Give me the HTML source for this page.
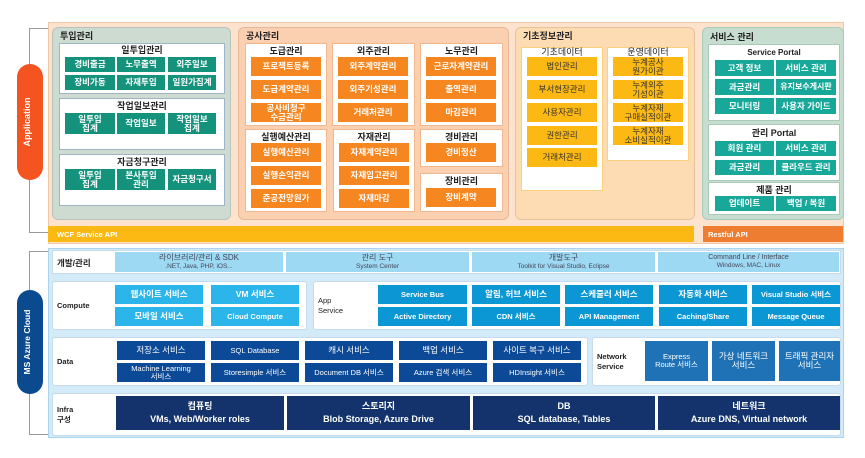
<!DOCTYPE html>
<html><head><meta charset="utf-8"><style>
*{margin:0;padding:0;box-sizing:border-box}
body{width:865px;height:458px;background:#fff;position:relative;overflow:hidden;font-family:"Liberation Sans","Noto Sans CJK KR",sans-serif}
div{position:absolute}
.c{display:flex;flex-direction:column;align-items:center;justify-content:center;text-align:center;color:#fff;font-size:8.5px;font-weight:bold;line-height:1.05}
.c span{display:block}
.t{font-size:9px;font-weight:bold;color:#222;text-align:center;line-height:1}
.w{background:#fff}
.g{background:#15927c}
.o{background:#f6861f}
.y{background:#fdb913}
.tl{background:#17a89a}
.lb{background:#9ed9f4;color:#445;font-weight:normal;font-size:8px;line-height:1.2}
.cb{background:#2bb5ea}
.ab{background:#0b96d4}
.db{background:#0c4a98;font-weight:normal}
.nb{background:#1f72b6;font-weight:normal}
.ib{background:#14336c;font-size:9px}
.rl{font-size:8px;font-weight:bold;color:#222}
</style></head><body>
<!-- Application -->
<div style="left:29px;top:28px;width:20px;height:205px;border:1.5px solid #999;border-right:none"></div>
<div style="left:48px;top:22px;width:796px;height:222px;background:#fde3cd;border:1px solid #f2c7a5"></div>
<div style="left:17px;top:64px;width:26px;height:116px;background:#f4541f;border-radius:13px"></div>
<div style="left:-13px;top:114px;width:86px;height:16px;color:#fff;font-size:9px;font-weight:bold;text-align:center;transform:rotate(-90deg)">Application</div>

<!-- 투입관리 -->
<div style="left:52px;top:27px;width:179px;height:193px;background:#cddbd1;border:1px solid #b8c3bc;border-radius:6px"></div>
<div class="t" style="left:60px;top:32px">투입관리</div>
<div class="w" style="left:59px;top:43px;width:166px;height:51px;border:1px solid #9fb2c8"></div>
<div class="t" style="left:59px;top:46px;width:166px">일투입관리</div>
<div class="c g" style="left:65px;top:57px;width:50px;height:15px">경비출금</div>
<div class="c g" style="left:117px;top:57px;width:48px;height:15px">노무출역</div>
<div class="c g" style="left:168px;top:57px;width:48px;height:15px">외주일보</div>
<div class="c g" style="left:65px;top:75px;width:50px;height:15px">장비가동</div>
<div class="c g" style="left:117px;top:75px;width:48px;height:15px">자재투입</div>
<div class="c g" style="left:168px;top:75px;width:48px;height:15px">일원가집계</div>
<div class="w" style="left:59px;top:98px;width:166px;height:52px;border:1px solid #9fb2c8"></div>
<div class="t" style="left:59px;top:102px;width:166px">작업일보관리</div>
<div class="c g" style="left:65px;top:113px;width:50px;height:21px">일투입<br>집계</div>
<div class="c g" style="left:117px;top:113px;width:48px;height:21px">작업일보</div>
<div class="c g" style="left:168px;top:113px;width:48px;height:21px">작업일보<br>집계</div>
<div class="w" style="left:59px;top:154px;width:166px;height:52px;border:1px solid #9fb2c8"></div>
<div class="t" style="left:59px;top:158px;width:166px">자금청구관리</div>
<div class="c g" style="left:65px;top:169px;width:50px;height:21px">일투입<br>집계</div>
<div class="c g" style="left:117px;top:169px;width:48px;height:21px">본사투입<br>관리</div>
<div class="c g" style="left:168px;top:169px;width:48px;height:21px">자금청구서</div>

<!-- 공사관리 -->
<div style="left:238px;top:27px;width:271px;height:193px;background:#fbd0b1;border:1px solid #e6b89a;border-radius:6px"></div>
<div class="t" style="left:246px;top:32px">공사관리</div>
<div class="w" style="left:245px;top:43px;width:82px;height:83px;border:1px solid #f1b88f"></div>
<div class="t" style="left:245px;top:47px;width:82px">도급관리</div>
<div class="c o" style="left:251px;top:57px;width:70px;height:19px">프로젝트등록</div>
<div class="c o" style="left:251px;top:80px;width:70px;height:19px">도급계약관리</div>
<div class="c o" style="left:251px;top:103px;width:70px;height:19px">공사비청구<br>수금관리</div>
<div class="w" style="left:332px;top:43px;width:83px;height:83px;border:1px solid #f1b88f"></div>
<div class="t" style="left:332px;top:47px;width:83px">외주관리</div>
<div class="c o" style="left:338px;top:57px;width:70px;height:19px">외주계약관리</div>
<div class="c o" style="left:338px;top:80px;width:70px;height:19px">외주기성관리</div>
<div class="c o" style="left:338px;top:103px;width:70px;height:19px">거래처관리</div>
<div class="w" style="left:420px;top:43px;width:83px;height:83px;border:1px solid #f1b88f"></div>
<div class="t" style="left:420px;top:47px;width:83px">노무관리</div>
<div class="c o" style="left:426px;top:57px;width:70px;height:19px">근로자계약관리</div>
<div class="c o" style="left:426px;top:80px;width:70px;height:19px">출역관리</div>
<div class="c o" style="left:426px;top:103px;width:70px;height:19px">마감관리</div>
<div class="w" style="left:245px;top:129px;width:82px;height:83px;border:1px solid #f1b88f"></div>
<div class="t" style="left:245px;top:133px;width:82px">실행예산관리</div>
<div class="c o" style="left:251px;top:143px;width:70px;height:19px">실행예산관리</div>
<div class="c o" style="left:251px;top:166px;width:70px;height:19px">실행손익관리</div>
<div class="c o" style="left:251px;top:189px;width:70px;height:19px">준공전망원가</div>
<div class="w" style="left:333px;top:129px;width:82px;height:83px;border:1px solid #f1b88f"></div>
<div class="t" style="left:333px;top:133px;width:82px">자재관리</div>
<div class="c o" style="left:339px;top:143px;width:70px;height:19px">자재계약관리</div>
<div class="c o" style="left:339px;top:166px;width:70px;height:19px">자재입고관리</div>
<div class="c o" style="left:339px;top:189px;width:70px;height:19px">자재마감</div>
<div class="w" style="left:420px;top:129px;width:83px;height:38px;border:1px solid #f1b88f"></div>
<div class="t" style="left:420px;top:133px;width:83px">경비관리</div>
<div class="c o" style="left:426px;top:143px;width:70px;height:19px">경비정산</div>
<div class="w" style="left:420px;top:173px;width:83px;height:39px;border:1px solid #f1b88f"></div>
<div class="t" style="left:420px;top:177px;width:83px">장비관리</div>
<div class="c o" style="left:426px;top:188px;width:70px;height:19px">장비계약</div>

<!-- 기초정보관리 -->
<div style="left:515px;top:27px;width:180px;height:193px;background:#fddcb4;border:1px solid #e8c39a;border-radius:6px"></div>
<div class="t" style="left:523px;top:32px">기초정보관리</div>
<div class="w" style="left:521px;top:47px;width:82px;height:144px;border:1px solid #fbd27a"></div>
<div class="t" style="left:521px;top:48px;width:82px;font-weight:normal">기초데이터</div>
<div class="c y" style="left:527px;top:57px;width:70px;height:19px;color:#333;font-weight:normal">법인관리</div>
<div class="c y" style="left:527px;top:80px;width:70px;height:19px;color:#333;font-weight:normal">부서현장관리</div>
<div class="c y" style="left:527px;top:103px;width:70px;height:19px;color:#333;font-weight:normal">사용자관리</div>
<div class="c y" style="left:527px;top:126px;width:70px;height:19px;color:#333;font-weight:normal">권한관리</div>
<div class="c y" style="left:527px;top:148px;width:70px;height:19px;color:#333;font-weight:normal">거래처관리</div>
<div class="w" style="left:607px;top:47px;width:82px;height:114px;border:1px solid #fbd27a"></div>
<div class="t" style="left:607px;top:48px;width:82px;font-weight:normal">운영데이터</div>
<div class="c y" style="left:613px;top:57px;width:70px;height:19px;color:#333;font-weight:normal">누계공사<br>원가이관</div>
<div class="c y" style="left:613px;top:80px;width:70px;height:19px;color:#333;font-weight:normal">누계외주<br>기성이관</div>
<div class="c y" style="left:613px;top:103px;width:70px;height:19px;color:#333;font-weight:normal">누계자재<br>구매실적이관</div>
<div class="c y" style="left:613px;top:126px;width:70px;height:19px;color:#333;font-weight:normal">누계자재<br>소비실적이관</div>

<!-- 서비스 관리 -->
<div style="left:702px;top:27px;width:142px;height:193px;background:#c7ddd0;border:1px solid #a7cbb6;border-radius:6px"></div>
<div class="t" style="left:710px;top:33px">서비스 관리</div>
<div class="w" style="left:708px;top:44px;width:132px;height:77px;border:1px solid #a7cbb6"></div>
<div class="t" style="left:708px;top:49px;width:132px;font-size:8px">Service Portal</div>
<div class="c tl" style="left:715px;top:60px;width:59px;height:16px">고객 정보</div>
<div class="c tl" style="left:776px;top:60px;width:60px;height:16px">서비스 관리</div>
<div class="c tl" style="left:715px;top:79px;width:59px;height:16px">과금관리</div>
<div class="c tl" style="left:776px;top:79px;width:60px;height:16px;font-size:8px">유지보수게시판</div>
<div class="c tl" style="left:715px;top:98px;width:59px;height:16px">모니터링</div>
<div class="c tl" style="left:776px;top:98px;width:60px;height:16px">사용자 가이드</div>
<div class="w" style="left:708px;top:124px;width:132px;height:57px;border:1px solid #a7cbb6"></div>
<div class="t" style="left:708px;top:129px;width:132px">관리 Portal</div>
<div class="c tl" style="left:715px;top:141px;width:59px;height:15px">회원 관리</div>
<div class="c tl" style="left:776px;top:141px;width:60px;height:15px">서비스 관리</div>
<div class="c tl" style="left:715px;top:160px;width:59px;height:15px">과금관리</div>
<div class="c tl" style="left:776px;top:160px;width:60px;height:15px">클라우드 관리</div>
<div class="w" style="left:708px;top:182px;width:132px;height:33px;border:1px solid #a7cbb6"></div>
<div class="t" style="left:708px;top:186px;width:132px">제품 관리</div>
<div class="c tl" style="left:715px;top:196px;width:59px;height:15px">업데이트</div>
<div class="c tl" style="left:776px;top:196px;width:60px;height:15px">백업 / 복원</div>

<div style="left:48px;top:226px;width:646px;height:16px;background:#fdb913;color:#fff;font-size:7.5px;font-weight:bold;padding:4px 0 0 9px">WCF Service API</div>
<div style="left:703px;top:226px;width:140px;height:16px;background:#ee7d31;color:#fff;font-size:7.5px;font-weight:bold;padding:4px 0 0 5px">Restful API</div>

<!-- Azure -->
<div style="left:29px;top:251px;width:20px;height:184px;border:1.5px solid #999;border-right:none"></div>
<div style="left:48px;top:248px;width:796px;height:190px;background:#d3ebf8;border:1px solid #a9d3ee"></div>
<div style="left:17px;top:290px;width:26px;height:104px;background:#0b4a8f;border-radius:13px"></div>
<div style="left:-18px;top:334px;width:96px;height:16px;color:#fff;font-size:8.5px;font-weight:bold;text-align:center;transform:rotate(-90deg)">MS Azure Cloud</div>

<div class="w" style="left:52px;top:250px;width:789px;height:24px;border:1px solid #c8dbe8"></div>
<div class="rl" style="left:57px;top:257px;font-size:8.5px">개발/관리</div>
<div class="c lb" style="left:115px;top:252px;width:168px;height:20px"><span>라이브러리/관리 &amp; SDK</span><span style="font-size:6.5px">.NET, Java, PHP, iOS...</span></div>
<div class="c lb" style="left:286px;top:252px;width:183px;height:20px"><span>관리 도구</span><span style="font-size:6.5px">System Center</span></div>
<div class="c lb" style="left:472px;top:252px;width:183px;height:20px"><span>개발도구</span><span style="font-size:6.5px">Toolkit for Visual Studio, Eclipse</span></div>
<div class="c lb" style="left:658px;top:252px;width:181px;height:20px;font-size:7px"><span>Command Line / Interface</span><span style="font-size:6.5px">Windows, MAC, Linux</span></div>

<div class="w" style="left:52px;top:281px;width:255px;height:49px;border:1px solid #c8dbe8;border-radius:3px"></div>
<div class="rl" style="left:57px;top:301px;font-size:7.5px">Compute</div>
<div class="c cb" style="left:115px;top:285px;width:88px;height:19px">웹사이트 서비스</div>
<div class="c cb" style="left:211px;top:285px;width:88px;height:19px">VM 서비스</div>
<div class="c cb" style="left:115px;top:307px;width:88px;height:19px">모바일 서비스</div>
<div class="c cb" style="left:211px;top:307px;width:88px;height:19px;font-size:7.5px">Cloud Compute</div>

<div class="w" style="left:313px;top:281px;width:528px;height:49px;border:1px solid #c8dbe8;border-radius:3px"></div>
<div class="rl" style="left:318px;top:296px;font-size:7.5px;font-weight:normal;line-height:1.3">App<br>Service</div>
<div class="c ab" style="left:378px;top:285px;width:89px;height:19px;font-size:7.5px">Service Bus</div>
<div class="c ab" style="left:472px;top:285px;width:88px;height:19px">알림, 허브 서비스</div>
<div class="c ab" style="left:565px;top:285px;width:88px;height:19px">스케줄러 서비스</div>
<div class="c ab" style="left:659px;top:285px;width:88px;height:19px">자동화 서비스</div>
<div class="c ab" style="left:752px;top:285px;width:88px;height:19px;font-size:7.5px">Visual Studio 서비스</div>
<div class="c ab" style="left:378px;top:307px;width:89px;height:19px;font-size:7.5px">Active Directory</div>
<div class="c ab" style="left:472px;top:307px;width:88px;height:19px;font-size:7.5px">CDN 서비스</div>
<div class="c ab" style="left:565px;top:307px;width:88px;height:19px;font-size:7.5px">API Management</div>
<div class="c ab" style="left:659px;top:307px;width:88px;height:19px;font-size:7.5px">Caching/Share</div>
<div class="c ab" style="left:752px;top:307px;width:88px;height:19px;font-size:7.5px">Message Queue</div>

<div class="w" style="left:52px;top:337px;width:536px;height:49px;border:1px solid #c8dbe8;border-radius:3px"></div>
<div class="rl" style="left:57px;top:357px;font-size:7.5px">Data</div>
<div class="c db" style="left:117px;top:341px;width:88px;height:19px">저장소 서비스</div>
<div class="c db" style="left:211px;top:341px;width:88px;height:19px;font-size:7.5px">SQL Database</div>
<div class="c db" style="left:305px;top:341px;width:88px;height:19px">캐시 서비스</div>
<div class="c db" style="left:399px;top:341px;width:88px;height:19px">백업 서비스</div>
<div class="c db" style="left:493px;top:341px;width:88px;height:19px">사이트 복구 서비스</div>
<div class="c db" style="left:117px;top:363px;width:88px;height:19px;font-size:7.5px">Machine Learning<br>서비스</div>
<div class="c db" style="left:211px;top:363px;width:88px;height:19px;font-size:7.5px">Storesimple 서비스</div>
<div class="c db" style="left:305px;top:363px;width:88px;height:19px;font-size:7.5px">Document DB 서비스</div>
<div class="c db" style="left:399px;top:363px;width:88px;height:19px;font-size:7.5px">Azure 검색 서비스</div>
<div class="c db" style="left:493px;top:363px;width:88px;height:19px;font-size:7.5px">HDInsight 서비스</div>

<div class="w" style="left:592px;top:337px;width:249px;height:49px;border:1px solid #c8dbe8;border-radius:3px"></div>
<div class="rl" style="left:597px;top:352px;font-size:7.5px;line-height:1.3">Network<br>Service</div>
<div class="c nb" style="left:645px;top:341px;width:63px;height:40px;font-size:7.5px">Express<br>Route 서비스</div>
<div class="c nb" style="left:712px;top:341px;width:63px;height:40px">가상 네트워크<br>서비스</div>
<div class="c nb" style="left:779px;top:341px;width:61px;height:40px">트래픽 관리자<br>서비스</div>

<div class="w" style="left:52px;top:393px;width:789px;height:43px;border:1px solid #c8dbe8;border-radius:3px"></div>
<div class="rl" style="left:57px;top:405px;font-size:7.5px;line-height:1.3">Infra<br>구성</div>
<div class="c ib" style="left:116px;top:396px;width:168px;height:34px;line-height:1.4">컴퓨팅<br>VMs, Web/Worker roles</div>
<div class="c ib" style="left:287px;top:396px;width:183px;height:34px;line-height:1.4">스토리지<br>Blob Storage, Azure Drive</div>
<div class="c ib" style="left:473px;top:396px;width:182px;height:34px;line-height:1.4">DB<br>SQL database, Tables</div>
<div class="c ib" style="left:658px;top:396px;width:182px;height:34px;line-height:1.4">네트워크<br>Azure DNS, Virtual network</div>
</body></html>
